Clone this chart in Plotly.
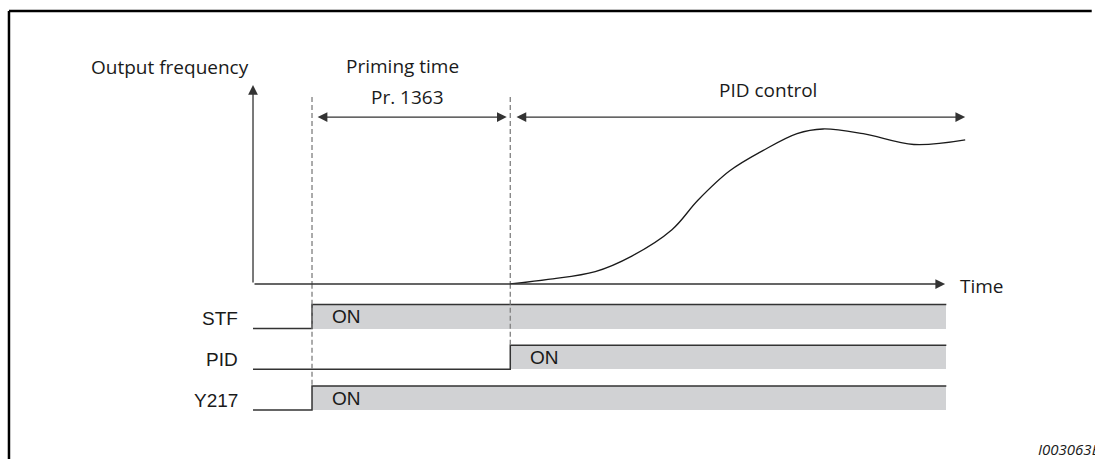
import plotly.graph_objects as go

# Data (time in arbitrary units, origin at the frequency axis)
t_stf_on = 1.0
t_pid_on = 4.36
t_end = 11.75
t_axis_end = 11.73
f_axis_top = 128.4

curve_t = [4.36, 5.0, 5.8, 6.42, 7.1, 7.54, 8.08, 8.64, 9.22, 9.66, 10.34, 11.2, 12.07]
curve_f = [0, 3, 8, 18, 35, 54, 73, 86, 97, 100, 97, 90, 93]

signals = ["STF", "PID", "Y217"]
signal_on = [t_stf_on, t_pid_on, t_stf_on]
row_base = [0, -1.7, -3.4]

priming_span = [1.07, 4.3]
pid_span = [4.44, 12.07]
span_level = 107.7
guide_top = 120.6

text_font = dict(family="Open Sans", size=19, color="#1a1a1a")
sig_font = dict(family="Liberation Sans", size=19, color="#1a1a1a")
line_col = "#333333"
fill_col = "#d1d2d4"
dash_col = "#7f7f7f"

fig = go.Figure()

# Signal rows: gray ON bars + step outline
for name, t_on, base in zip(signals, signal_on, row_base):
    fig.add_trace(go.Bar(
        y=[base + 0.5], x=[t_end - t_on], base=[t_on], width=1,
        orientation="h", marker_color=fill_col, marker_line_width=0,
        yaxis="y2", showlegend=False, hoverinfo="skip"
    ))
    fig.add_trace(go.Scatter(
        x=[0, t_on, t_end], y=[base, base + 1, base + 1],
        mode="lines", line=dict(color=line_col, width=1.5, shape="hv"),
        yaxis="y2", showlegend=False, hoverinfo="skip"
    ))
    fig.add_annotation(x=-0.22, y=base + 0.4, yref="y2", text=name,
                       showarrow=False, xanchor="right", yanchor="middle", font=sig_font)
    fig.add_annotation(x=t_on + 0.3, y=base + 0.48, yref="y2", text="ON",
                       showarrow=False, xanchor="left", yanchor="middle", font=sig_font)

# Dashed guide lines (upper part on frequency axis, lower part on signal axis)
for t_guide, row in [(t_stf_on, 2), (t_pid_on, 1)]:
    fig.add_trace(go.Scatter(
        x=[t_guide, t_guide], y=[guide_top, 0], mode="lines",
        line=dict(color=dash_col, width=1.3, dash="5px,3px"),
        showlegend=False, hoverinfo="skip"
    ))
    fig.add_trace(go.Scatter(
        x=[t_guide, t_guide], y=[1.86, row_base[row] + 1], mode="lines",
        line=dict(color=dash_col, width=1.3, dash="5px,3px"),
        yaxis="y2", showlegend=False, hoverinfo="skip"
    ))

# Output frequency curve
fig.add_trace(go.Scatter(
    x=curve_t, y=curve_f, mode="lines",
    line=dict(color="#1a1a1a", width=1.3, shape="spline", smoothing=1),
    showlegend=False, hoverinfo="skip"
))

# Axes with arrowheads
arrow = dict(showarrow=True, text="", axref="x", ayref="y", arrowhead=2,
             arrowsize=1.5, arrowwidth=1.3, arrowcolor=line_col)
fig.add_annotation(x=0, y=f_axis_top, ax=0, ay=0, **arrow)
fig.add_annotation(x=t_axis_end, y=0, ax=0, ay=0, **arrow)

# Time span arrows
fig.add_annotation(x=priming_span[1], y=span_level, ax=priming_span[0], ay=span_level,
                   arrowside="end+start", **arrow)
fig.add_annotation(x=pid_span[1], y=span_level, ax=pid_span[0], ay=span_level,
                   arrowside="end+start", **arrow)

# Texts
fig.add_annotation(x=-1.41, y=140, text="Output frequency", showarrow=False, font=text_font)
fig.add_annotation(x=2.53, y=140.6, text="Priming time", showarrow=False, font=text_font)
fig.add_annotation(x=2.61, y=120.6, text="Pr. 1363", showarrow=False, font=text_font)
fig.add_annotation(x=8.73, y=125.2, text="PID control", showarrow=False, font=text_font)
fig.add_annotation(x=11.95, y=0, yshift=-2, text="Time", showarrow=False,
                   xanchor="left", yanchor="middle", font=text_font)
fig.add_annotation(x=0.946, y=0.022, xref="paper", yref="paper", text="<i>I003063E</i>",
                   showarrow=False, xanchor="left", yanchor="middle",
                   font=dict(family="Open Sans", size=15, color="#1a1a1a"))

# Frame (left and top border only)
frame = dict(type="line", xref="paper", yref="paper", line=dict(color="black", width=2.5))
fig.add_shape(x0=0.0082, x1=0.0082, y0=0, y1=0.976, **frame)
fig.add_shape(x0=0.0082, x1=0.997, y0=0.976, y1=0.976, **frame)

fig.update_layout(
    width=1095, height=459, autosize=False,
    margin=dict(l=0, r=0, t=0, b=0),
    paper_bgcolor="white", plot_bgcolor="white",
    xaxis=dict(range=[-4.288, 14.27], visible=False, fixedrange=True),
    yaxis=dict(range=[0, 183.2], domain=[0.38126, 1], visible=False),
    yaxis2=dict(range=[-5.4375, 1.854], domain=[0, 0.38126], anchor="x", visible=False),
    bargap=0,
)

fig.write_html(
    "out.html", config={"displayModeBar": False},
    post_script=("document.documentElement.style.overflow='hidden';"
                 "document.body.style.margin='0';document.body.style.overflow='hidden';")
)
